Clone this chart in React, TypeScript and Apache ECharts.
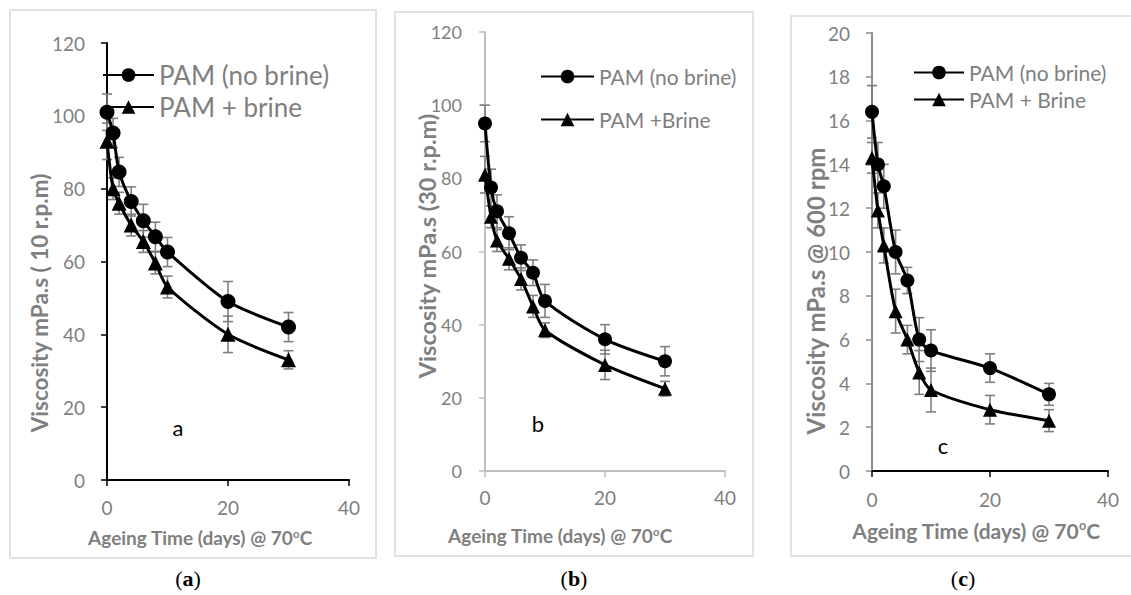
import React, { useEffect, useRef } from "react";
import * as echarts from "echarts";

const DAYS = [0, 1, 2, 4, 6, 8, 10, 20, 30];

const A_NOBRINE = [101, 95.3, 84.6, 76.5, 71.2, 66.8, 62.6, 49, 42];
const A_NOBRINE_ERR = [5, 4, 4, 4, 4.5, 4, 4, 5.5, 4];
const A_BRINE = [93, 80, 76, 70, 65.5, 59.6, 53, 40, 33];
const A_BRINE_ERR = [5, 3, 3, 3, 3, 3, 3, 5, 2.5];

const B_NOBRINE = [95, 77.5, 71, 65, 58.3, 54.2, 46.5, 36, 30];
const B_NOBRINE_ERR = [5, 5, 4.5, 4.5, 3.5, 3.5, 4.5, 4, 4];
const B_BRINE = [81, 69.5, 63, 58, 52.5, 45, 38.5, 29, 22.5];
const B_BRINE_ERR = [5, 3, 3, 3, 3, 3, 2, 4, 2];

const C_NOBRINE = [16.4, 14.0, 13.0, 10.0, 8.7, 6.0, 5.5, 4.7, 3.5];
const C_NOBRINE_ERR = [1.2, 1, 1, 1, 0.6, 1, 0.95, 0.65, 0.5];
const C_BRINE = [14.3, 11.9, 10.3, 7.3, 6.0, 4.5, 3.7, 2.8, 2.3];
const C_BRINE_ERR = [0.7, 0.8, 0.8, 1, 0.65, 1, 1, 0.65, 0.5];

const LEGEND_A = ["PAM (no brine)", "PAM + brine"];
const LEGEND_B = ["PAM (no brine)", "PAM +Brine"];
const LEGEND_C = ["PAM (no brine)", "PAM + Brine"];

const Y_TITLES = ["Viscosity mPa.s ( 10 r.p.m)", "Viscosity mPa.s (30 r.p.m)", "Viscosity mPa.s @ 600 rpm"];
const X_TITLE = "Ageing Time (days) @ 70{sup|o}C";
const PANEL_LETTERS = ["a", "b", "c"];

const FONT = "Lato";
const GRAY = "#7f7f7f";

function pts(vals: number[]) {
  return DAYS.map((d, i) => [d, vals[i]]);
}
function errPts(vals: number[], errs: number[]) {
  return DAYS.map((d, i) => [d, vals[i], errs[i]]);
}

function errSeries(name: string, idx: number, vals: number[], errs: number[]) {
  return {
    type: "custom",
    name,
    xAxisIndex: idx,
    yAxisIndex: idx,
    z: 1,
    encode: { x: 0, y: 1 },
    data: errPts(vals, errs),
    renderItem: (params: any, api: any) => {
      const x = api.value(0);
      const y = api.value(1);
      const e = api.value(2);
      const t = api.coord([x, y + e]);
      const b = api.coord([x, y - e]);
      const hw = 5;
      const st = { stroke: GRAY, lineWidth: 1.6 };
      return {
        type: "group",
        children: [
          { type: "line", shape: { x1: t[0], y1: t[1], x2: b[0], y2: b[1] }, style: st },
          { type: "line", shape: { x1: t[0] - hw, y1: t[1], x2: t[0] + hw, y2: t[1] }, style: st },
          { type: "line", shape: { x1: b[0] - hw, y1: b[1], x2: b[0] + hw, y2: b[1] }, style: st },
        ],
      };
    },
  };
}

function lineSeries(name: string, idx: number, vals: number[], symbol: string, size: number) {
  return {
    type: "line",
    name,
    xAxisIndex: idx,
    yAxisIndex: idx,
    z: 3,
    data: pts(vals),
    smooth: 0.25,
    symbol,
    symbolSize: size,
    showSymbol: true,
    lineStyle: { color: "#000", width: 3 },
    itemStyle: { color: "#000" },
  };
}

function xAxis(idx: number, lineColor: string, labelSize: number, margin: number) {
  return {
    type: "value",
    gridIndex: idx,
    min: 0,
    max: 40,
    interval: 20,
    axisLine: { show: true, onZero: false, lineStyle: { color: lineColor, width: 2 } },
    axisTick: { show: true, inside: false, length: 6, lineStyle: { color: lineColor, width: 1.5 } },
    axisLabel: { color: GRAY, fontFamily: FONT, fontSize: labelSize, margin },
    splitLine: { show: false },
  };
}

function yAxis(idx: number, max: number, interval: number, lineColor: string, labelSize: number, margin: number) {
  return {
    type: "value",
    gridIndex: idx,
    min: 0,
    max,
    interval,
    axisLine: { show: true, onZero: false, lineStyle: { color: lineColor, width: 2 } },
    axisTick: { show: true, inside: false, length: 6, lineStyle: { color: lineColor, width: 1.5 } },
    axisLabel: { color: GRAY, fontFamily: FONT, fontSize: labelSize, margin },
    splitLine: { show: false },
  };
}

function legend(data: string[], left: number, top: number, fontSize: number, gap: number, width: number) {
  return {
    data,
    orient: "vertical",
    left,
    top,
    itemWidth: width,
    itemHeight: 17,
    itemGap: gap,
    selectedMode: false,
    textStyle: { color: GRAY, fontFamily: FONT, fontSize, lineHeight: fontSize },
  };
}

function yTitle(text: string, x: number, y: number, size: number) {
  return {
    type: "text",
    x,
    y,
    rotation: Math.PI / 2,
    style: {
      text,
      fill: GRAY,
      font: `bold ${size}px ${FONT}`,
      align: "center",
      verticalAlign: "middle",
    },
  };
}

function xTitle(x: number, y: number, size: number) {
  return {
    type: "text",
    x,
    y,
    style: {
      text: X_TITLE,
      fill: GRAY,
      fontFamily: FONT,
      fontWeight: "bold",
      fontSize: size,
      align: "center",
      verticalAlign: "middle",
      rich: {
        sup: { fontFamily: FONT, fontWeight: "bold", fontSize: size * 0.6, fill: GRAY, verticalAlign: "top", padding: [0, 0, size * 0.4, 0] },
      },
    },
  };
}

function caption(letter: string, x: number, y: number) {
  return {
    type: "text",
    x,
    y,
    style: {
      text: `{p|(}{l|${letter}}{p|)}`,
      align: "center",
      verticalAlign: "middle",
      rich: {
        p: { fontFamily: "Liberation Serif", fontSize: 22, fill: "#000" },
        l: { fontFamily: "Liberation Serif", fontSize: 22, fontWeight: "bold", fill: "#000" },
      },
    },
  };
}

function border(x: number, y: number, w: number, h: number) {
  return {
    type: "rect",
    shape: { x, y, width: w, height: h },
    style: { fill: "none", stroke: "#d9d9d9", lineWidth: 1.5 },
    z: -1,
  };
}

function panelLetter(letter: string, x: number, y: number) {
  return {
    type: "text",
    x,
    y,
    style: { text: letter, fill: "#000", fontFamily: FONT, fontSize: 22, align: "center", verticalAlign: "middle" },
  };
}

export default function App() {
  const ref = useRef<HTMLDivElement>(null);
  useEffect(() => {
    const chart = echarts.init(ref.current as HTMLDivElement, null, { renderer: "svg" });
    const option: any = {
      animation: false,
      backgroundColor: "#fff",
      grid: [
        { left: 107, top: 43, width: 242, height: 437 },
        { left: 485, top: 32, width: 240, height: 439 },
        { left: 872, top: 33, width: 236, height: 438 },
      ],
      xAxis: [xAxis(0, "#000", 19, 18), xAxis(1, "#bfbfbf", 19, 17), xAxis(2, "#000", 19, 19)],
      yAxis: [
        yAxis(0, 120, 20, "#000", 19, 22),
        yAxis(1, 120, 20, "#bfbfbf", 18, 23),
        yAxis(2, 20, 2, "#8c8c8c", 19, 22),
      ],
      legend: [
        legend(LEGEND_A, 97, 57, 26, 6, 51),
        legend(LEGEND_B, 535, 61, 21, 22, 53),
        legend(LEGEND_C, 908, 57, 21, 6, 50),
      ],
      series: [
        errSeries("errA1", 0, A_NOBRINE, A_NOBRINE_ERR),
        errSeries("errA2", 0, A_BRINE, A_BRINE_ERR),
        lineSeries(LEGEND_A[0], 0, A_NOBRINE, "circle", 15),
        lineSeries(LEGEND_A[1], 0, A_BRINE, "triangle", 15),
        errSeries("errB1", 1, B_NOBRINE, B_NOBRINE_ERR),
        errSeries("errB2", 1, B_BRINE, B_BRINE_ERR),
        lineSeries(LEGEND_B[0], 1, B_NOBRINE, "circle", 14),
        lineSeries(LEGEND_B[1], 1, B_BRINE, "triangle", 14),
        errSeries("errC1", 2, C_NOBRINE, C_NOBRINE_ERR),
        errSeries("errC2", 2, C_BRINE, C_BRINE_ERR),
        lineSeries(LEGEND_C[0], 2, C_NOBRINE, "circle", 14),
        lineSeries(LEGEND_C[1], 2, C_BRINE, "triangle", 14),
      ],
      graphic: [
        border(10, 10, 366, 548),
        border(395, 12, 358, 544),
        border(791, 16, 345, 540),
        yTitle(Y_TITLES[0], 39, 303, 22.5),
        yTitle(Y_TITLES[1], 427, 246, 23.5),
        yTitle(Y_TITLES[2], 815, 291, 24),
        xTitle(200, 537, 19),
        xTitle(560, 535, 19),
        xTitle(976, 530, 21),
        panelLetter(PANEL_LETTERS[0], 178, 427),
        panelLetter(PANEL_LETTERS[1], 538, 423),
        panelLetter(PANEL_LETTERS[2], 943, 445),
        caption("a", 188, 578),
        caption("b", 574, 578),
        caption("c", 963, 578),
      ],
    };
    chart.setOption(option);
    return () => chart.dispose();
  }, []);
  return (
    <div
      ref={ref}
      style={{ position: "fixed", left: 0, top: 0, width: 1131, height: 595, background: "#fff" }}
    />
  );
}
